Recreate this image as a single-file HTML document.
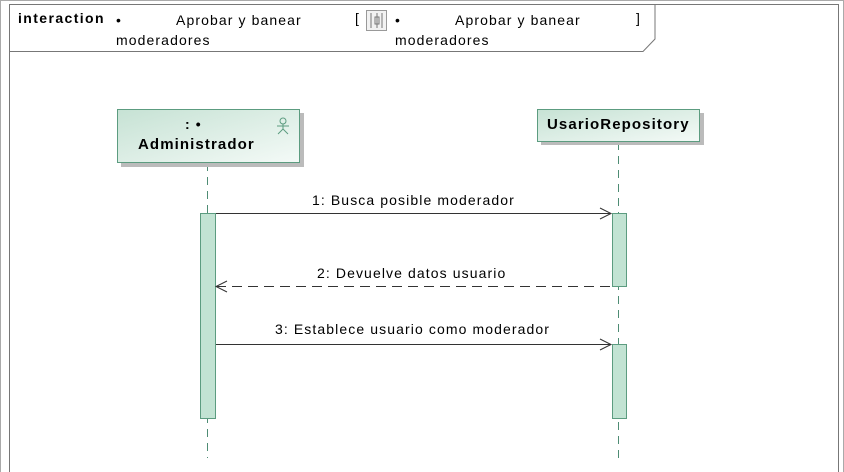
<!DOCTYPE html>
<html><head><meta charset="utf-8"><style>
html,body{margin:0;padding:0;background:#fff;}
body{width:844px;height:472px;overflow:hidden;position:relative;font-family:"Liberation Sans",Arial,sans-serif;}
.t{position:absolute;font-size:14px;color:#000;white-space:nowrap;letter-spacing:1.1px;}
</style></head><body>
<svg width="844" height="472" style="position:absolute;left:0;top:0">
<defs>
<linearGradient id="g" x1="0" y1="0" x2="1" y2="1">
<stop offset="0" stop-color="#c6e2d4"/><stop offset="1" stop-color="#f4faf7"/>
</linearGradient>
</defs>
<rect x="0.5" y="0.5" width="843" height="480" fill="none" stroke="#aaa"/>
<rect x="9.5" y="4.5" width="829" height="480" fill="none" stroke="#777"/>
<polyline points="9.5,51.5 643,51.5 655,39 655,4.5" fill="none" stroke="#777"/>
<line x1="207.5" y1="163" x2="207.5" y2="458" stroke="#4e8c74" stroke-dasharray="8,6"/>
<line x1="618.5" y1="142" x2="618.5" y2="458" stroke="#4e8c74" stroke-dasharray="8,6"/>
<rect x="121" y="113" width="183" height="54" fill="#bbb"/>
<rect x="117.5" y="109.5" width="182" height="53" fill="url(#g)" stroke="#5c9c80"/>
<g stroke="#5c9c80" fill="none" stroke-width="1">
<circle cx="283" cy="121" r="3"/>
<line x1="283" y1="124" x2="283" y2="129"/><line x1="277" y1="126" x2="289" y2="126"/>
<line x1="283" y1="129" x2="278" y2="134"/><line x1="283" y1="129" x2="288" y2="134"/>
</g>
<rect x="541" y="113" width="163" height="32" fill="#bbb"/>
<rect x="537.5" y="109.5" width="162" height="32" fill="url(#g)" stroke="#5c9c80"/>
<rect x="200.5" y="213.5" width="15" height="205" fill="#c2e3d3" stroke="#5c9c80"/>
<rect x="612.5" y="213.5" width="14" height="73" fill="#c2e3d3" stroke="#5c9c80"/>
<rect x="612.5" y="344.5" width="14" height="74" fill="#c2e3d3" stroke="#5c9c80"/>
<line x1="216" y1="213.5" x2="611" y2="213.5" stroke="#333"/>
<polyline points="600,208 611,213.5 600,219" fill="none" stroke="#333"/>
<line x1="216" y1="286.5" x2="611" y2="286.5" stroke="#333" stroke-dasharray="10,6"/>
<polyline points="227,281 216,286.5 227,292" fill="none" stroke="#333"/>
<line x1="216" y1="344.5" x2="611" y2="344.5" stroke="#333"/>
<polyline points="600,339 611,344.5 600,350" fill="none" stroke="#333"/>
<rect x="366.5" y="10.5" width="20" height="20" fill="#f2f2f2" stroke="#999"/>
<g stroke="#777"><line x1="371" y1="13" x2="371" y2="28"/><line x1="377" y1="13" x2="377" y2="28"/><line x1="382" y1="13" x2="382" y2="28"/><rect x="375" y="17" width="4" height="7" fill="none"/></g>
</svg>
<div class="t" style="left:18px;top:10px;font-weight:bold;letter-spacing:1.4px;">interaction</div>
<div class="t" style="left:116px;top:12px;">•</div>
<div class="t" style="left:176px;top:12px;">Aprobar y banear</div>
<div class="t" style="left:116px;top:32px;">moderadores</div>
<div class="t" style="left:355px;top:10px;">[</div>
<div class="t" style="left:395px;top:12px;">•</div>
<div class="t" style="left:455px;top:12px;">Aprobar y banear</div>
<div class="t" style="left:395px;top:32px;">moderadores</div>
<div class="t" style="left:636px;top:10px;">]</div>
<div class="t" style="left:185px;top:116px;font-weight:bold;">: •</div>
<div class="t" style="left:138px;top:136px;font-weight:bold;font-size:15px;">Administrador</div>
<div class="t" style="left:547px;top:116px;font-weight:bold;font-size:15px;">UsarioRepository</div>
<div class="t" style="left:312px;top:192px;">1: Busca posible moderador</div>
<div class="t" style="left:317px;top:265px;">2: Devuelve datos usuario</div>
<div class="t" style="left:275px;top:321px;">3: Establece usuario como moderador</div>
</body></html>
